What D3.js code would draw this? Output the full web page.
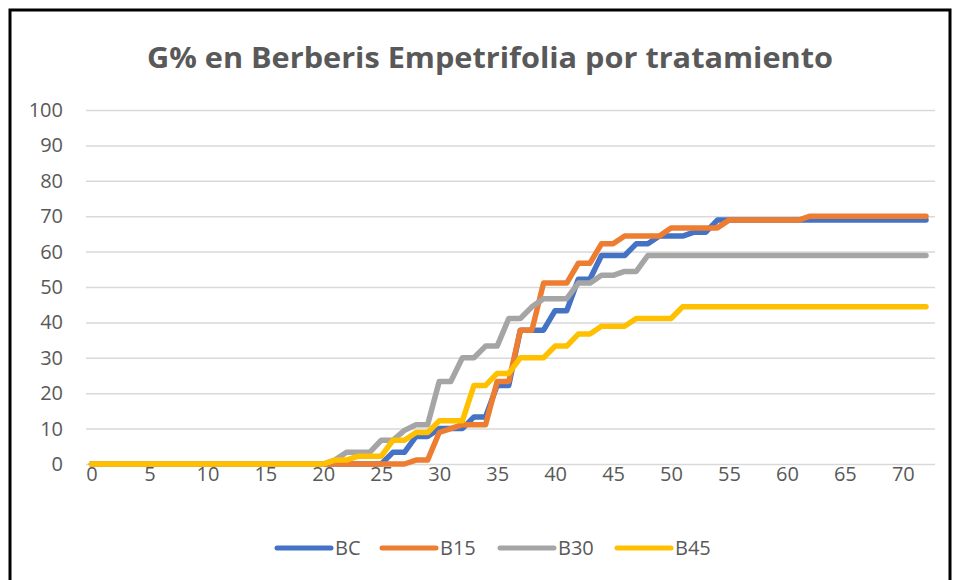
<!DOCTYPE html>
<html>
<head>
<meta charset="utf-8">
<script src="https://cdn.jsdelivr.net/npm/d3@7"></script>
<style>
  body { margin: 0; background: #fff; }
  svg text { font-family: "Open Sans", "Noto Sans", sans-serif; fill: #595959; }
</style>
</head>
<body>
<div id="chart"></div>
<script>
// days (categories)
const days = [
  0, 1, 2, 3, 4, 5, 6, 7, 8, 9, 10, 11, 12, 13, 14, 15, 16, 17, 18, 19, 20,
  21, 22, 23, 24, 25, 26, 27, 28, 29, 30, 31, 32, 33, 34, 35, 36, 37, 38, 39, 40,
  41, 42, 43, 44, 45, 46, 47, 48, 49, 50, 51, 52, 53, 54, 55, 56, 57, 58, 59, 60,
  61, 62, 63, 64, 65, 66, 67, 68, 69, 70, 71, 72
];

// G% per treatment
const bc = [
  0, 0, 0, 0, 0, 0, 0, 0, 0, 0, 0, 0, 0, 0, 0, 0, 0, 0, 0, 0, 0,
  0, 0, 0, 0, 0, 3.3, 3.3, 7.8, 7.8, 10, 10, 10, 13.3, 13.3, 22.2, 22.2, 37.8, 37.8, 37.8, 43.3,
  43.3, 52.2, 52.2, 58.9, 58.9, 58.9, 62.2, 62.2, 64.4, 64.4, 64.4, 65.5, 65.5, 68.9, 68.9, 68.9, 68.9, 68.9, 68.9, 68.9,
  68.9, 68.9, 68.9, 68.9, 68.9, 68.9, 68.9, 68.9, 68.9, 68.9, 68.9, 68.9
];
const b15 = [
  0, 0, 0, 0, 0, 0, 0, 0, 0, 0, 0, 0, 0, 0, 0, 0, 0, 0, 0, 0, 0,
  0, 0, 0, 0, 0, 0, 0, 1.1, 1.1, 8.9, 10, 11.1, 11.1, 11.1, 23.3, 23.3, 37.8, 37.8, 51.1, 51.1,
  51.1, 56.7, 56.7, 62.2, 62.2, 64.4, 64.4, 64.4, 64.4, 66.7, 66.7, 66.7, 66.7, 66.7, 68.9, 68.9, 68.9, 68.9, 68.9, 68.9,
  68.9, 70, 70, 70, 70, 70, 70, 70, 70, 70, 70, 70
];
const b30 = [
  0, 0, 0, 0, 0, 0, 0, 0, 0, 0, 0, 0, 0, 0, 0, 0, 0, 0, 0, 0, 0,
  1.1, 3.3, 3.3, 3.3, 6.7, 6.7, 9.5, 11.1, 11.1, 23.3, 23.3, 30, 30, 33.3, 33.3, 41.1, 41.1, 44.4, 46.7, 46.7,
  46.7, 51.1, 51.1, 53.3, 53.3, 54.4, 54.4, 58.9, 58.9, 58.9, 58.9, 58.9, 58.9, 58.9, 58.9, 58.9, 58.9, 58.9, 58.9, 58.9,
  58.9, 58.9, 58.9, 58.9, 58.9, 58.9, 58.9, 58.9, 58.9, 58.9, 58.9, 58.9
];
const b45 = [
  0, 0, 0, 0, 0, 0, 0, 0, 0, 0, 0, 0, 0, 0, 0, 0, 0, 0, 0, 0, 0,
  1.1, 1.1, 2.2, 2.2, 2.2, 6.7, 6.7, 8.9, 8.9, 12.2, 12.2, 12.2, 22.2, 22.2, 25.6, 25.6, 30, 30, 30, 33.3,
  33.3, 36.7, 36.7, 38.9, 38.9, 38.9, 41.1, 41.1, 41.1, 41.1, 44.4, 44.4, 44.4, 44.4, 44.4, 44.4, 44.4, 44.4, 44.4, 44.4,
  44.4, 44.4, 44.4, 44.4, 44.4, 44.4, 44.4, 44.4, 44.4, 44.4, 44.4, 44.4
];

const seriesNames = ["BC", "B15", "B30", "B45"];
const seriesValues = [bc, b15, b30, b45];
const colors = ["#4472C4", "#ED7D31", "#A5A5A5", "#FFC000"];
const xTicks = [0, 5, 10, 15, 20, 25, 30, 35, 40, 45, 50, 55, 60, 65, 70];
const yTicks = [0, 10, 20, 30, 40, 50, 60, 70, 80, 90, 100];
const title = "G% en Berberis Empetrifolia por tratamiento";

const W = 957, H = 580;
const plot = { left: 86, right: 935, top: 110, bottom: 464 };

const svg = d3.select("#chart").append("svg")
  .attr("width", W)
  .attr("height", H);

// chart frame
svg.append("rect")
  .attr("x", 10).attr("y", 10)
  .attr("width", 940).attr("height", 600)
  .attr("fill", "#fff")
  .attr("stroke", "#000")
  .attr("stroke-width", 3);

const x = d3.scaleLinear().domain([0, 72]).range([91.5, 926]);
const y = d3.scaleLinear().domain([0, 100]).range([plot.bottom, plot.top]);

// title
svg.append("text")
  .attr("x", 490).attr("y", 68)
  .attr("text-anchor", "middle")
  .attr("font-size", 29)
  .attr("font-weight", "bold")
  .attr("textLength", 686)
  .attr("lengthAdjust", "spacingAndGlyphs")
  .text(title);

// gridlines + y labels
const yAxis = svg.append("g")
  .attr("transform", `translate(${plot.left},0)`)
  .call(d3.axisLeft(y).tickValues(yTicks).tickSize(-(plot.right - plot.left)).tickPadding(23));
yAxis.select(".domain").remove();
yAxis.selectAll(".tick line").attr("stroke", "#d9d9d9").attr("stroke-width", 1.5);
yAxis.selectAll(".tick text").attr("font-size", 20).attr("fill", "#595959");

// x labels
const xAxis = svg.append("g")
  .attr("transform", `translate(0,${plot.bottom})`)
  .call(d3.axisBottom(x).tickValues(xTicks).tickSize(0).tickPadding(3));
xAxis.select(".domain").remove();
xAxis.selectAll(".tick text").attr("font-size", 20).attr("fill", "#595959");

// lines
const line = d3.line()
  .x((d, i) => x(days[i]))
  .y(d => y(d));

seriesValues.forEach((vals, k) => {
  svg.append("path")
    .datum(vals)
    .attr("fill", "none")
    .attr("stroke", colors[k])
    .attr("stroke-width", 5.5)
    .attr("stroke-linejoin", "round")
    .attr("stroke-linecap", "round")
    .attr("d", line);
});

// legend
const legendX = [277, 382, 500, 617];
const legend = svg.append("g").attr("transform", "translate(0,548)");
seriesNames.forEach((name, k) => {
  legend.append("line")
    .attr("x1", legendX[k]).attr("x2", legendX[k] + 54)
    .attr("y1", 0).attr("y2", 0)
    .attr("stroke", colors[k])
    .attr("stroke-width", 5)
    .attr("stroke-linecap", "round");
  legend.append("text")
    .attr("x", legendX[k] + 58)
    .attr("y", 7)
    .attr("font-size", 20)
    .text(name);
});
</script>
</body>
</html>
